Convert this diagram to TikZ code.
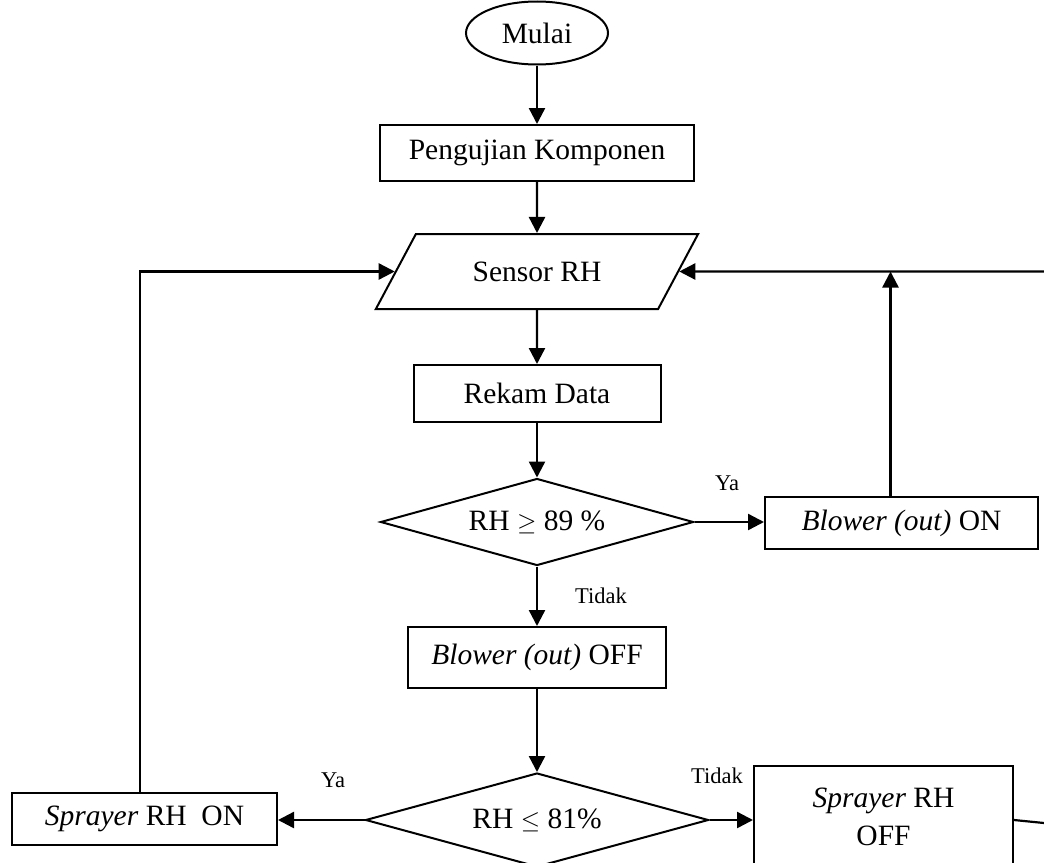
\documentclass[tikz,border=0pt]{standalone}
\usepackage{fontspec}
\setmainfont{Liberation Serif}
\usepackage{tikz}
\usetikzlibrary{shapes.geometric, arrows.meta, positioning, calc}

\begin{document}
\begin{tikzpicture}[x=1pt, y=-1pt,
        font=\fontsize{29.5}{38}\selectfont,
        proses/.style   = {rectangle, draw, line width=2pt, minimum width=#1, minimum height=56pt, inner sep=0pt, align=center},
        proses/.default = 250pt,
        keputusan/.style= {diamond, draw, line width=2pt, inner sep=0pt},
        terminal/.style = {ellipse, draw, line width=2pt, minimum width=142pt, minimum height=63pt, inner sep=0pt},
        masukan/.style  = {trapezium, trapezium left angle=43, trapezium right angle=137, trapezium stretches=true,
                           draw, line width=2pt, minimum width=323pt, minimum height=75pt, inner sep=0pt},
        panah/.style    = {draw, line width=2.4pt, -{Triangle[length=16pt, width=16pt]}},
        garis/.style    = {draw, line width=2.2pt},
        ket/.style      = {font=\fontsize{22.5}{27}\selectfont}
    ]
    \clip (0,0) rectangle (1044,862);

    % --- ALUR UTAMA ---
    \node[terminal] (mulai) at (537, 33) {Mulai};
    \node[proses=314pt] (uji) at (537, 153) {Pengujian Komponen};
    \node[masukan] (sensor) at (537, 271.5) {Sensor RH};
    \node[proses=247pt, minimum height=57pt] (rekam) at (537, 393.5) {Rekam Data};
    \node[keputusan, aspect=3.6, minimum width=313pt, minimum height=87pt] (cek89) at (537, 522) {RH $\geq$ 89 \%};
    \node[proses=258pt, minimum height=61pt] (blowoff) at (537, 657.5) {\textit{Blower (out)} OFF};
    \node[keputusan, aspect=3.65, minimum width=343pt, minimum height=94pt] (cek81) at (537, 820) {RH $\leq$ 81\%};

    % --- CABANG ---
    \node[proses=273pt, minimum height=52pt] (blowon) at (901.5, 523) {\textit{Blower (out)} ON};
    \node[proses=265pt, minimum height=52pt] (sprayon) at (144.5, 819) {\textit{Sprayer} RH\ \ ON};
    \node[proses=259pt, minimum height=102pt] (sprayoff) at (883.5, 817) {\textit{Sprayer} RH\\OFF};

    \coordinate (kanan) at (1044, 271.5);
    \coordinate (lanjut) at (1044, 823);

    % --- PANAH ---
    \draw[panah] (mulai) -- (uji);
    \draw[panah] (uji) -- (sensor);
    \draw[panah] (sensor) -- (rekam);
    \draw[panah] (rekam) -- (cek89);
    \draw[panah] (cek89) -- (blowoff);
    \draw[panah] (blowoff) -- (cek81);

    \draw[panah] (cek89.east) -- (blowon.west |- cek89.east);
    \draw[panah] (cek81.west) -- (sprayon.east |- cek81.west);
    \draw[panah] (cek81.east) -- (sprayoff.west |- cek81.east);

    \draw[panah] (sprayon.north -| 140,0) |- (sensor.west);
    \draw[panah] (kanan) -- (sensor.east);
    \draw[panah] ([xshift=-11pt]blowon.north) -- ([xshift=-11pt]blowon.north |- kanan);
    \draw[garis] (sprayoff.east |- cek81.east) -- (lanjut);

    % --- KETERANGAN ---
    \node[ket] (ya1) at (727, 483) {Ya};
    \node[ket] (tidak1) at (601, 596) {Tidak};
    \node[ket] (ya2) at (333, 780) {Ya};
    \node[ket] (tidak2) at (717, 776) {Tidak};

\end{tikzpicture}
\end{document}
